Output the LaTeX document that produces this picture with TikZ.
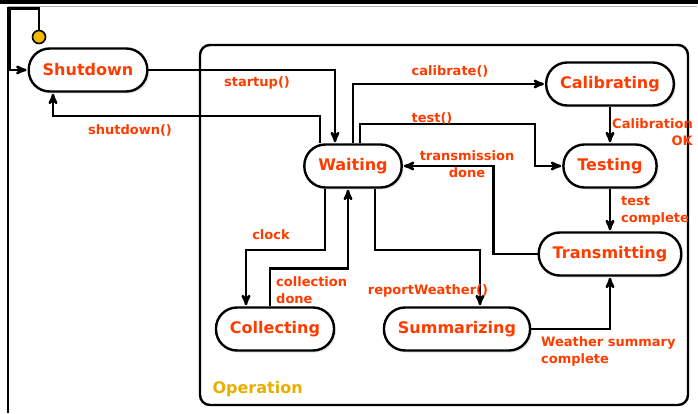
\documentclass[tikz,border=0pt]{standalone}
\usepackage{fontspec}
\setmainfont{DejaVu Sans}
\usetikzlibrary{arrows,shadows}

\definecolor{labelred}{HTML}{FF3C00}
\definecolor{opyellow}{HTML}{E8AE00}
\definecolor{dotyellow}{HTML}{F2B800}

\begin{document}
\begin{tikzpicture}[x=1pt,y=-1pt,>=stealth',shorten >=1pt,line width=2.4pt,
  state/.style={draw,rectangle,rounded corners=21pt,minimum height=43pt,inner xsep=14pt,
    fill=white,text=labelred,font=\fontsize{16}{16}\selectfont\bfseries,
    drop shadow={opacity=0.2,shadow xshift=2pt,shadow yshift=-2pt}},
  lbl/.style={text=labelred,font=\fontsize{13}{17}\selectfont\bfseries,inner sep=1pt},
  initdot/.style={draw,circle,fill=dotyellow,minimum size=13pt,inner sep=0pt,line width=1.6pt}]
  \useasboundingbox (0,0) rectangle (698,414);

  % window frame
  \fill (0,0) rectangle (698,4);
  \draw[black!30,line width=1pt] (8,7) -- (698,7);
  \draw[line width=1.5pt] (8,7) -- (8,414);

  % composite state
  \draw[rounded corners=10pt] (200,45) rectangle (688,405);
  \node[text=opyellow,font=\fontsize{16}{16}\selectfont\bfseries,anchor=west] (operation) at (208,389) {Operation};

  \node[initdot]  (init)         at (39,37)  {};
  \node[state]    (shutdown)     at (88,70)  {Shutdown};
  \node[state]    (waiting)      at (353,166) {Waiting};
  \node[state]    (calibrating)  at (610,84) {Calibrating};
  \node[state]    (testing)      at (610,166) {Testing};
  \node[state]    (transmitting) at (610,254) {Transmitting};
  \node[state]    (collecting)   at (275,329) {Collecting};
  \node[state]    (summarizing)  at (457,329) {Summarizing};

  \draw[->] (init.north) -- ++(0,-21) -| ([xshift=-18pt]shutdown.west) -- (shutdown.west);

  \draw[->] (shutdown.east) -| ([xshift=-18pt]waiting.north);
  \node[lbl] (startuplbl) at (257,83) {startup()};

  \draw[->] ([xshift=-33pt]waiting.north) -- ++(0,-27) -| ([xshift=-35pt]shutdown.south);
  \node[lbl] (shutdownlbl) at (130,130) {shutdown()};

  \draw[->] (waiting.north) |- (calibrating.west);
  \node[lbl] (calibratelbl) at (450,71) {calibrate()};

  \draw[->] ([xshift=7pt]waiting.north) -- ++(0,-19) -| ([xshift=-27pt]testing.west) -- (testing.west);
  \node[lbl] (testlbl) at (432,118) {test()};

  \draw[->] (calibrating) -- (testing);
  \node[lbl,align=right,anchor=east] (calokl) at (695,132) {Calibration\\OK};

  \draw[->] (testing) -- (transmitting);
  \node[lbl,align=left,anchor=west] (testcompl) at (619,211) {test\\complete};

  \draw[->] (transmitting.west) -- ++(-44,0) |- (waiting.east);
  \node[lbl,align=center] (transdonel) at (467,164) {transmission\\done};

  \draw[->] ([xshift=-28pt]waiting.south) -- ++(0,61) -| ([xshift=-29pt]collecting.north);
  \node[lbl] (clocklbl) at (271,235) {clock};

  \draw[->] ([xshift=-5pt]collecting.north) -- ++(0,-38) -| ([xshift=-5pt]waiting.south);
  \node[lbl,align=left,anchor=west] (colldonel) at (274,290) {collection\\done};

  \draw[->] ([xshift=22pt]waiting.south) -- ++(0,61) -| ([xshift=23pt]summarizing.north);
  \node[lbl] (reportlbl) at (428,291) {reportWeather()};

  \draw[->] (summarizing.east) -| (transmitting.south);
  \node[lbl,align=left,anchor=west] (summcompl) at (539,351) {Weather summary\\complete};
\end{tikzpicture}
\end{document}
